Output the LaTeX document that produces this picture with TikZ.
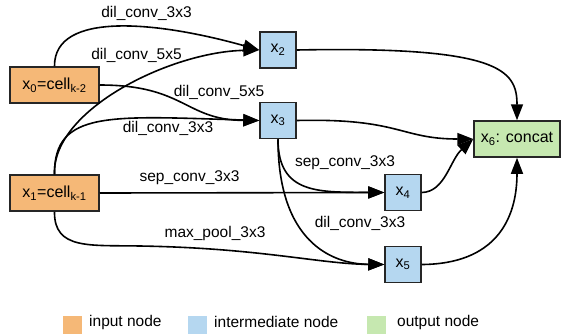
\documentclass[tikz,border=0pt]{standalone}
\usepackage{fontspec}
\setmainfont{Liberation Sans}
\usetikzlibrary{arrows.meta}
\definecolor{inpc}{RGB}{245,184,119}
\definecolor{midc}{RGB}{181,215,240}
\definecolor{outc}{RGB}{198,232,176}
\tikzset{
  box/.style={draw=black!85, line width=1.5pt, inner sep=0pt, font=\fontsize{16}{18}\selectfont},
  inbox/.style={box, fill=inpc, minimum width=89pt, minimum height=36pt},
  midbox/.style={box, fill=midc, minimum width=36pt, minimum height=36pt},
  outbox/.style={box, fill=outc, minimum width=86pt, minimum height=36pt},
  lbl/.style={font=\fontsize{15.5}{18}\selectfont, inner sep=0pt},
  arr/.style={line width=1.6pt, -{Triangle[length=16pt,width=12pt]}},
  legsq/.style={minimum width=19pt, minimum height=19pt, inner sep=0pt},
}
\newcommand{\sbs}[1]{\textsubscript{#1}}
\begin{document}
\begin{tikzpicture}[x=1pt,y=-1pt]
\useasboundingbox (0,0) rectangle (563,333);
% nodes
\node[inbox] (x0) at (54.5,85) {x\sbs{0}=cell\sbs{k-2}};
\node[inbox] (x1) at (54.5,193) {x\sbs{1}=cell\sbs{k-1}};
\node[midbox] (x2) at (278,50) {x\sbs{2}};
\node[midbox] (x3) at (278,120.5) {x\sbs{3}};
\node[midbox] (x4) at (403,192.5) {x\sbs{4}};
\node[midbox] (x5) at (403,264.5) {x\sbs{5}};
\node[outbox] (x6) at (517,139) {x\sbs{6}: concat};
% edges
\draw[arr] (x0.north) .. controls (54,10) and (160,22) .. (x2.west);
\draw[arr] (x1.north) .. controls (52,110) and (170,52) .. (x2.west);
\draw[arr] (x0.east) .. controls (185,85) and (185,120) .. (x3.west);
\draw[arr] (x1.north) .. controls (54,110) and (110,116) .. (x3.west);
\draw[arr] (x1.east) -- (x4.west);
\draw[arr] (x1.south) .. controls (54,250) and (90,245) .. (140,246) .. controls (260,248) and (320,264) .. (x5.west);
\draw[arr] (x3.south) .. controls (278,195) and (320,192) .. (x4.west);
\draw[arr] (x3.south) .. controls (278,240) and (330,264) .. (x5.west);
\draw[arr] (x2.east) .. controls (500,46) and (517,70) .. (x6.north);
\draw[arr] (x3.east) .. controls (400,118) and (400,139) .. (x6.west);
\draw[arr] (x4.east) .. controls (445,192) and (450,160) .. (x6.west);
\draw[arr] (x5.east) .. controls (495,264) and (517,220) .. (x6.south);
% labels
\node[lbl] (l1) at (146.5,13) {dil\_conv\_3x3};
\node[lbl] (l2) at (136.5,55) {dil\_conv\_5x5};
\node[lbl] (l3) at (219,92) {dil\_conv\_5x5};
\node[lbl] (l4) at (168,128) {dil\_conv\_3x3};
\node[lbl] (l5) at (189.5,178) {sep\_conv\_3x3};
\node[lbl] (l6) at (215,233) {max\_pool\_3x3};
\node[lbl] (l7) at (345,163) {sep\_conv\_3x3};
\node[lbl] (l8) at (360,223) {dil\_conv\_3x3};
% legend
\node[legsq, fill=inpc] (q1) at (72.5,325) {};
\node[lbl, anchor=west] (t1) at (89,322) {input node};
\node[legsq, fill=midc] (q2) at (197.5,325) {};
\node[lbl, anchor=west] (t2) at (214,322) {intermediate node};
\node[legsq, fill=outc] (q3) at (376.5,325) {};
\node[lbl, anchor=west] (t3) at (397,322) {output node};
\end{tikzpicture}
\end{document}
